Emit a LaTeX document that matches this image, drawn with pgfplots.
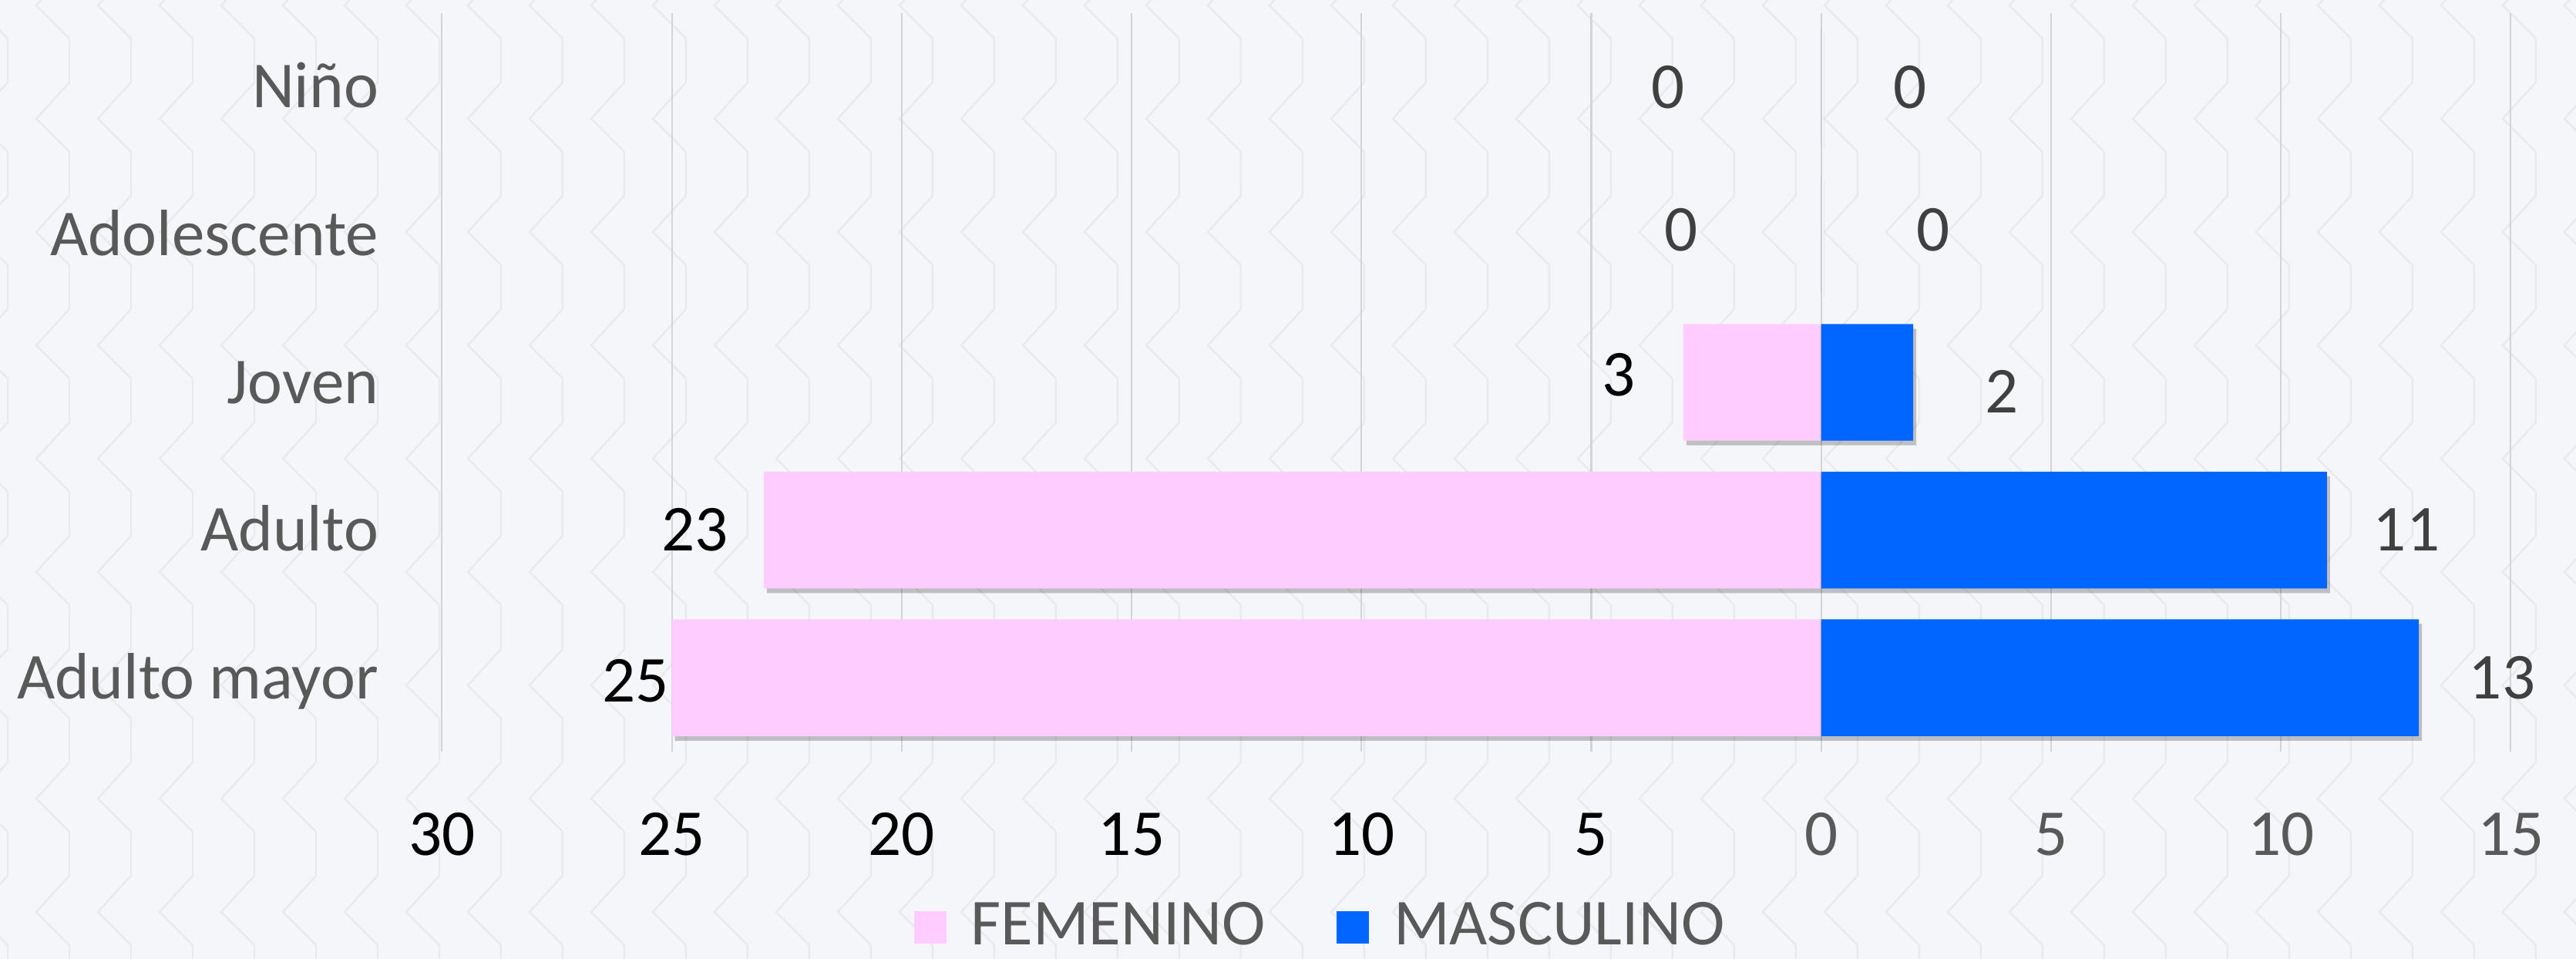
\documentclass[border=0pt]{standalone}
\usepackage{fontspec}
\setmainfont{Carlito}
\usepackage{pgfplots}
\pgfplotsset{compat=1.18}

\definecolor{bg}{HTML}{F4F6F9}
\definecolor{zz}{HTML}{E8EAED}
\definecolor{gridc}{HTML}{D4D4D4}
\definecolor{fem}{HTML}{FFCCFF}
\definecolor{mas}{HTML}{0066FF}
\definecolor{txt}{HTML}{595959}
\definecolor{lbl}{HTML}{404040}

\newcommand{\lblfont}{\fontsize{12.1}{14.5}\selectfont}

\begin{document}
\begin{tikzpicture}
\useasboundingbox (0,0) rectangle (167.1mm,62.2mm);
\fill[bg] (0,0) rectangle (167.1mm,62.2mm);
% zigzag background
\begin{scope}[shift={(0,62.2mm)}, x=0.05mm, y=-0.05mm]
  \clip (0,0) rectangle (3342,1244);
  \foreach \k in {0,...,42}{
    \pgfmathsetmacro{\xx}{10+80*\k}
    \foreach \j in {-1,...,8}{
      \pgfmathsetmacro{\yy}{50+147*\j}
      \draw[zz, line width=0.35pt] (\xx,\yy) -- (\xx,\yy+57) -- (\xx-43,\yy+104) -- (\xx,\yy+147);
    }
  }
\end{scope}

\begin{axis}[
  at={(28.67mm,13.45mm)}, anchor=south west,
  scale only axis, width=134.2mm, height=47.9mm,
  xmin=-30, xmax=15, ymin=-0.5, ymax=4.5, y dir=reverse,
  enlargelimits=false, clip=false,
  axis line style={draw=none}, tick style={draw=none},
  xmajorgrids, grid style={gridc, line width=0.3pt},
  xtick={-30,-25,...,15},
  xticklabels={30,25,20,15,10,5,{\textcolor{txt}{0}},{\textcolor{txt}{5}},{\textcolor{txt}{10}},{\textcolor{txt}{15}}},
  ytick={0,1,2,3,4},
  yticklabels={Niño,Adolescente,Joven,Adulto,Adulto mayor},
  /pgf/number format/assume math mode=true,
  tick label style={font=\lblfont},
  xticklabel style={anchor=base, yshift=-6.75mm, text=black},
  yticklabel style={anchor=base east, inner sep=0pt, xshift=-4.05mm, yshift=-3.85pt, text=txt},
  legend style={at={(0.43,-0.238)}, anchor=center, draw=none, fill=none,
    font=\lblfont, text=txt, legend columns=2, inner sep=0pt,
    nodes={inner ysep=0pt, inner xsep=1.6mm},
    /tikz/every even column/.append style={column sep=3mm}},
  legend image code/.code={\fill[#1] (0mm,-1.05mm) rectangle (2.1mm,1.05mm);},
]
% FEMENINO
\addplot[forget plot, xbar, bar width=7.57mm, bar shift=0pt, fill=fem, draw=none,
  preaction={fill=black, fill opacity=0.22, transform canvas={xshift=0.2mm, yshift=-0.3mm}}]
  coordinates {(0,0) (0,1) (-3,2) (-23,3) (-25,4)};
% MASCULINO
\addplot[forget plot, xbar, bar width=7.57mm, bar shift=0pt, fill=mas, draw=none,
  preaction={fill=black, fill opacity=0.22, transform canvas={xshift=0.2mm, yshift=-0.3mm}}]
  coordinates {(0,0) (0,1) (2,2) (11,3) (13,4)};

% data labels
\addplot[forget plot, draw=none, mark=none, nodes near coords, point meta=explicit symbolic,
  nodes near coords align={center},
  every node near coord/.append style={text=black, font=\lblfont}]
  coordinates {(-4.40,1.95) [3] (-24.5,3) [23] (-25.79,4.02) [25]};
\addplot[forget plot, draw=none, mark=none, nodes near coords, point meta=explicit symbolic,
  nodes near coords align={center},
  every node near coord/.append style={text=lbl, font=\lblfont}]
  coordinates {(-3.33,0) [0] (-3.04,0.97) [0] (1.93,0) [0] (2.43,0.97) [0]
               (3.93,2.06) [2] (12.73,3) [11] (14.81,4) [13]};

\addlegendimage{fill=fem, draw=none}
\addlegendentry{FEMENINO}
\addlegendimage{fill=mas, draw=none}
\addlegendentry{MASCULINO}
\end{axis}
\end{tikzpicture}
\end{document}
